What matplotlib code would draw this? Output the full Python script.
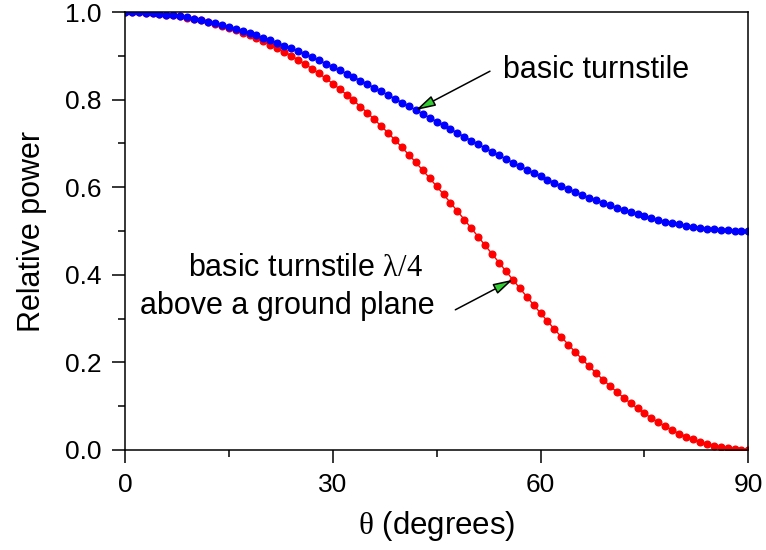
import matplotlib
matplotlib.use('Agg')
import matplotlib.pyplot as plt
import matplotlib.ticker as ticker

# angle in degrees, one point per degree
theta = list(range(0, 91))

# basic turnstile
basic = [1.0000, 0.9998, 0.9994, 0.9986, 0.9976, 0.9962, 0.9945, 0.9926, 0.9903, 0.9878,
         0.9849, 0.9818, 0.9784, 0.9747, 0.9707, 0.9665, 0.9620, 0.9573, 0.9523, 0.9470,
         0.9415, 0.9358, 0.9298, 0.9237, 0.9173, 0.9107, 0.9039, 0.8969, 0.8898, 0.8825,
         0.8750, 0.8674, 0.8596, 0.8517, 0.8437, 0.8355, 0.8273, 0.8189, 0.8105, 0.8020,
         0.7934, 0.7848, 0.7761, 0.7674, 0.7587, 0.7500, 0.7413, 0.7326, 0.7239, 0.7152,
         0.7066, 0.6980, 0.6895, 0.6811, 0.6727, 0.6645, 0.6563, 0.6483, 0.6404, 0.6326,
         0.6250, 0.6175, 0.6102, 0.6031, 0.5961, 0.5893, 0.5827, 0.5763, 0.5702, 0.5642,
         0.5585, 0.5530, 0.5477, 0.5427, 0.5380, 0.5335, 0.5293, 0.5253, 0.5216, 0.5182,
         0.5151, 0.5122, 0.5097, 0.5074, 0.5055, 0.5038, 0.5024, 0.5014, 0.5006, 0.5002,
         0.5000]

# basic turnstile lambda/4 above a ground plane
ground = [1.0000, 0.9998, 0.9994, 0.9986, 0.9976, 0.9962, 0.9944, 0.9925, 0.9901, 0.9874,
          0.9843, 0.9810, 0.9772, 0.9731, 0.9686, 0.9637, 0.9584, 0.9528, 0.9467, 0.9401,
          0.9331, 0.9257, 0.9177, 0.9094, 0.9005, 0.8911, 0.8812, 0.8709, 0.8600, 0.8487,
          0.8368, 0.8244, 0.8115, 0.7982, 0.7843, 0.7699, 0.7550, 0.7397, 0.7239, 0.7077,
          0.6910, 0.6739, 0.6565, 0.6387, 0.6206, 0.6021, 0.5835, 0.5645, 0.5453, 0.5260,
          0.5065, 0.4869, 0.4673, 0.4476, 0.4280, 0.4084, 0.3888, 0.3695, 0.3503, 0.3312,
          0.3125, 0.2940, 0.2759, 0.2581, 0.2407, 0.2237, 0.2072, 0.1912, 0.1757, 0.1607,
          0.1463, 0.1325, 0.1192, 0.1066, 0.0947, 0.0834, 0.0728, 0.0629, 0.0537, 0.0452,
          0.0374, 0.0303, 0.0240, 0.0184, 0.0135, 0.0094, 0.0060, 0.0034, 0.0015, 0.0004,
          0.0000]

plt.rcParams['font.family'] = ['Liberation Sans', 'DejaVu Sans']
plt.rcParams['mathtext.fontset'] = 'custom'
plt.rcParams['mathtext.rm'] = 'Liberation Serif'
plt.rcParams['mathtext.it'] = 'Liberation Serif'

fig = plt.figure(figsize=(7.66, 5.5), dpi=100)
ax = fig.add_axes([0.163, 0.182, 0.814, 0.796])

ax.plot(theta, ground, color='#ff0000', marker='o', markersize=4.8, linewidth=1)
ax.plot(theta, basic, color='#0000ff', marker='o', markersize=4.8, linewidth=1)

ax.set_xlim(0, 90)
ax.set_ylim(0, 1.0)
ax.xaxis.set_major_locator(ticker.MultipleLocator(30))
ax.xaxis.set_minor_locator(ticker.MultipleLocator(15))
ax.yaxis.set_major_locator(ticker.MultipleLocator(0.2))
ax.yaxis.set_minor_locator(ticker.MultipleLocator(0.1))
ax.yaxis.set_major_formatter(ticker.FormatStrFormatter('%.1f'))
ax.tick_params(which='major', length=9.5, width=1.1, labelsize=19, pad=7, direction='out')
ax.tick_params(which='minor', length=4.7, width=1.1, direction='out')
for s in ax.spines.values():
    s.set_linewidth(1.1)

ax.set_xlabel(r'$\theta$ (degrees)', fontsize=22.5, labelpad=9)
ax.set_ylabel('Relative power', fontsize=22, labelpad=13)

arrow = dict(arrowstyle='-|>,head_length=0.8,head_width=0.22', fc='#33cc33', ec='black',
             lw=1.1, mutation_scale=15, shrinkA=0, shrinkB=0)
ax.annotate('', xy=(theta[42], basic[42]), xytext=(52.7, 0.865), arrowprops=arrow)
ax.text(54.6, 0.868, 'basic turnstile', fontsize=22, va='center', ha='left')

ax.annotate('', xy=(theta[56], ground[56]), xytext=(47.7, 0.32), arrowprops=arrow)
ax.text(9.1, 0.416, r'basic turnstile $\lambda/4$', fontsize=22, va='center', ha='left')
ax.text(2.2, 0.329, 'above a ground plane', fontsize=22, va='center', ha='left')

fig.savefig('out.png', dpi=100)
plt.close()
